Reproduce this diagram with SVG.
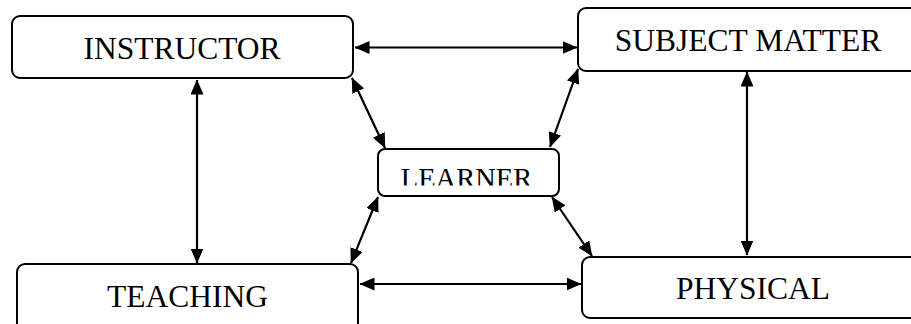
<svg xmlns="http://www.w3.org/2000/svg" width="911" height="324" viewBox="0 0 911 324">
<style>
.box{fill:#fff;stroke:#000;stroke-width:2}
.lbl{font-family:"Liberation Serif","Times New Roman",serif;font-size:31.5px;fill:#000;text-anchor:middle}
.con{stroke:#000;stroke-width:2.2;fill:none;marker-start:url(#ah);marker-end:url(#ah)}
</style>
<defs>
<marker id="ah" viewBox="0 0 15 13" refX="14.5" refY="6.5" markerWidth="15" markerHeight="13" markerUnits="userSpaceOnUse" orient="auto-start-reverse">
<path d="M0,0 L15,6.5 L0,13 z" fill="#000"/>
</marker>
<clipPath id="lclip"><rect x="378" y="149" width="181" height="36.5"/></clipPath>
</defs>
<rect width="911" height="324" fill="#fff"/>
<g id="connectors">
<line class="con" x1="355" y1="47.5" x2="577" y2="47.5"/>
<line class="con" x1="197" y1="80" x2="197" y2="263"/>
<line class="con" x1="747" y1="72" x2="747" y2="255"/>
<line class="con" x1="360" y1="284" x2="581" y2="284"/>
<line class="con" x1="352" y1="78" x2="385" y2="148"/>
<line class="con" x1="578" y1="69" x2="550" y2="147"/>
<line class="con" x1="378" y1="197" x2="351" y2="263"/>
<line class="con" x1="552" y1="197" x2="592" y2="256"/>
</g>
<g id="instructor">
<rect class="box" x="12" y="16" width="341" height="62" rx="8"/>
<text class="lbl" x="182" y="59">INSTRUCTOR</text>
</g>
<g id="subject-matter">
<rect class="box" x="578" y="8" width="345" height="63" rx="8"/>
<text class="lbl" x="748" y="51">SUBJECT MATTER</text>
</g>
<g id="learner">
<rect class="box" x="378" y="149" width="181" height="47" rx="7"/>
<text class="lbl" x="466.5" y="187.5" style="font-size:28.5px" clip-path="url(#lclip)">LEARNER</text>
</g>
<g id="teaching">
<rect class="box" x="17" y="264" width="341" height="70" rx="8"/>
<text class="lbl" x="187.5" y="307">TEACHING</text>
</g>
<g id="physical">
<rect class="box" x="582" y="257" width="345" height="61" rx="8"/>
<text class="lbl" x="753" y="299">PHYSICAL</text>
</g>
</svg>
